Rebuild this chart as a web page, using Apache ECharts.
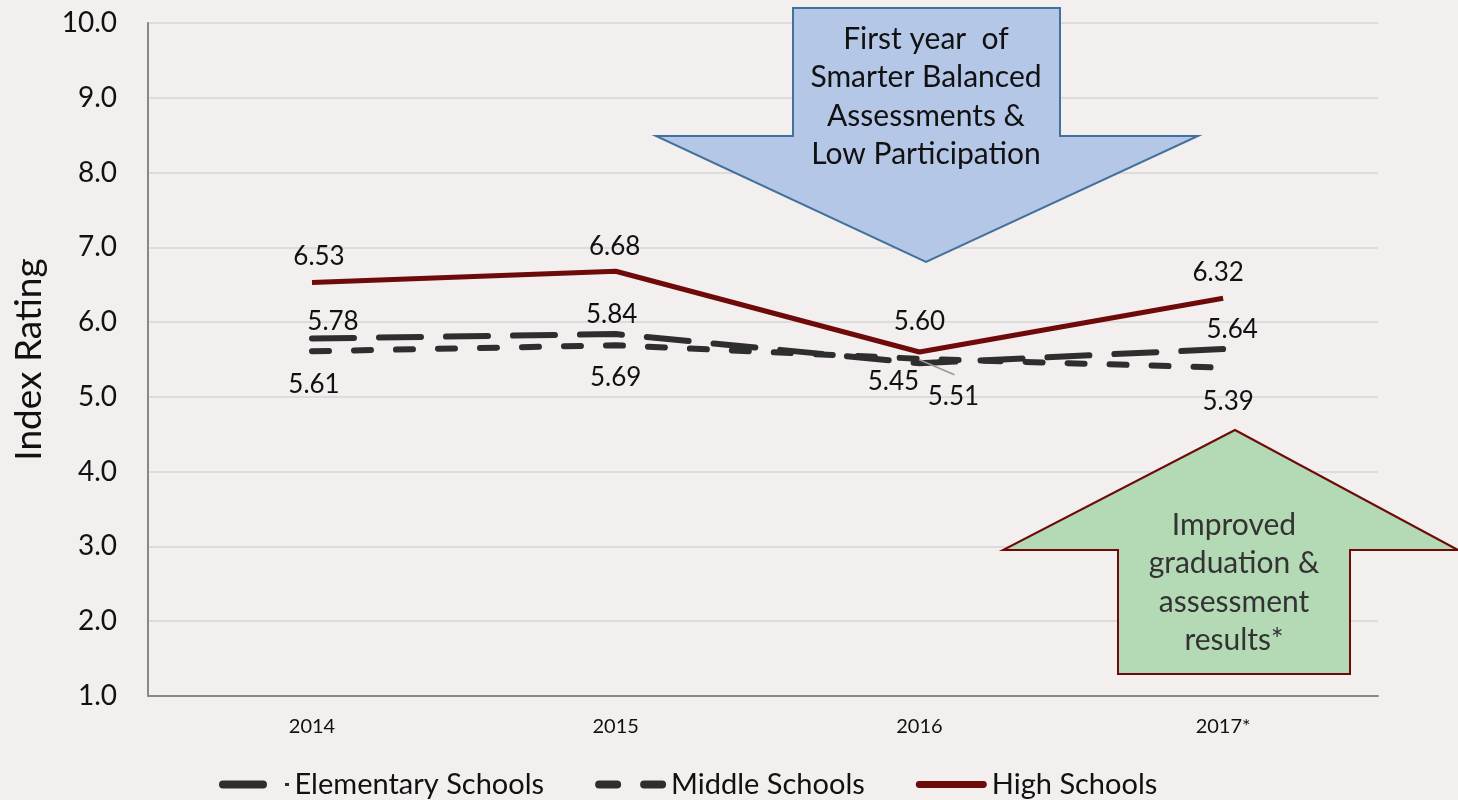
<!DOCTYPE html>
<html>
<head>
<meta charset="utf-8">
<script src="https://cdn.jsdelivr.net/npm/echarts@6/dist/echarts.min.js"></script>
<style>
  html, body { margin: 0; padding: 0; background: #f2efee; }
  #chart { width: 1458px; height: 800px; }
</style>
</head>
<body>
<div id="chart"></div>
<script>
  const years = ['2014', '2015', '2016', '2017*']
  const yearIdx = [0, 1, 2, 3]
  const elementary = [5.78, 5.84, 5.45, 5.64]
  const middle = [5.61, 5.69, 5.51, 5.39]
  const high = [6.53, 6.68, 5.60, 6.32]

  // label offsets from each point, px
  const elemOffsets = [[21, -17], [-4, -19], [-26, 18], [9, -19]]
  const middleOffsets = [[2, 33], [0, 32], [34, 38], [5, 34]]
  const highOffsets = [[7, -26], [-1, -25], [0, -30], [-5, -26]]

  const font = 'Lato, "Open Sans", sans-serif'

  function toData(values, offsets) {
    return values.map((v, i) => ({ value: [yearIdx[i], v], label: { offset: offsets[i] } }))
  }

  const chart = echarts.init(document.getElementById('chart'))

  const lblStyle = {
    show: true,
    position: 'inside',
    fontSize: 26,
    color: '#111',
    fontFamily: font,
    formatter: p => p.value[1].toFixed(2)
  }

  const option = {
    backgroundColor: '#f2efee',
    animation: false,
    grid: { left: 148, right: 80, top: 23, bottom: 104 },
    legend: {
      top: 765,
      left: 214,
      itemWidth: 71,
      itemHeight: 8,
      itemGap: 51,
      textStyle: { fontSize: 29, color: '#111', fontFamily: font },
      data: [
        { name: 'Elementary Schools',
          icon: 'path://M4,0H44A4,4 0 0 1 44,8H4A4,4 0 0 1 4,0Z M66,2.5H70V5.5H66Z' },
        { name: 'Middle Schools',
          icon: 'path://M4,0H22A4,4 0 0 1 22,8H4A4,4 0 0 1 4,0Z M49,0H67A4,4 0 0 1 67,8H49A4,4 0 0 1 49,0Z' },
        { name: 'High Schools',
          icon: 'path://M3,0.5H68A3.5,3.5 0 0 1 68,7.5H3A3.5,3.5 0 0 1 3,0.5Z' }
      ]
    },
    xAxis: {
      type: 'value',
      min: -0.54,
      max: 3.51,
      splitLine: { show: false },
      axisTick: { show: false },
      axisLine: { lineStyle: { color: '#888', width: 2 } },
      axisLabel: {
        customValues: yearIdx,
        fontSize: 20, color: '#111', margin: 21, fontFamily: font,
        formatter: v => years[v]
      }
    },
    yAxis: {
      type: 'value',
      min: 1,
      max: 10,
      interval: 1,
      name: 'Index Rating',
      nameLocation: 'middle',
      nameGap: 100,
      nameTextStyle: { fontSize: 37, color: '#111', fontFamily: font },
      axisLine: { show: true, onZero: false, lineStyle: { color: '#888', width: 2 } },
      axisTick: { show: false },
      axisLabel: {
        fontSize: 28, color: '#111', margin: 31, fontFamily: font,
        formatter: v => v.toFixed(1)
      },
      splitLine: { lineStyle: { color: '#dcdcdc', width: 2 } }
    },
    series: [
      {
        name: 'Elementary Schools',
        type: 'line',
        symbol: 'circle',
        symbolSize: 0,
        data: toData(elementary, elemOffsets),
        lineStyle: { color: '#2e2e2e', width: 6, type: [42, 25], cap: 'round' },
        itemStyle: { color: '#2e2e2e' },
        label: lblStyle,
        z: 3
      },
      {
        name: 'Middle Schools',
        type: 'line',
        symbol: 'circle',
        symbolSize: 0,
        data: toData(middle, middleOffsets),
        lineStyle: { color: '#2e2e2e', width: 6, type: [17, 25], cap: 'round' },
        itemStyle: { color: '#2e2e2e' },
        label: lblStyle,
        z: 3
      },
      {
        name: 'High Schools',
        type: 'line',
        symbol: 'circle',
        symbolSize: 0,
        data: toData(high, highOffsets),
        lineStyle: { color: '#6e0a0a', width: 5 },
        itemStyle: { color: '#6e0a0a' },
        label: lblStyle,
        z: 4
      }
    ],
    graphic: [
      {
        type: 'polygon',
        z: 10,
        shape: {
          points: [[793, 8], [1060, 8], [1060, 136], [1198, 136], [926, 262],
                   [656, 136], [793, 136]]
        },
        style: { fill: '#b4c7e7', stroke: '#41719c', lineWidth: 2 }
      },
      {
        type: 'text',
        z: 11,
        x: 926,
        y: 97,
        style: {
          text: 'First year  of\nSmarter Balanced\nAssessments &\nLow Participation',
          fill: '#111',
          font: '30px ' + font,
          lineHeight: 38.5,
          align: 'center',
          verticalAlign: 'middle'
        }
      },
      {
        type: 'polygon',
        z: 10,
        shape: {
          points: [[1235, 430], [1458, 550], [1350, 550], [1350, 674],
                   [1118, 674], [1118, 550], [1003, 550]]
        },
        style: { fill: '#b4dab5', stroke: '#6e0a0a', lineWidth: 2 }
      },
      {
        type: 'text',
        z: 11,
        x: 1234,
        y: 583,
        style: {
          text: 'Improved\ngraduation &\nassessment\nresults*',
          fill: '#333',
          font: '30px ' + font,
          lineHeight: 38.5,
          align: 'center',
          verticalAlign: 'middle'
        }
      }
    ]
  }

  option && chart.setOption(option)

  // small guide line from the 2016 middle-school point to its label
  const p = chart.convertToPixel({ gridIndex: 0 }, [yearIdx[2], middle[2]])
  chart.setOption({
    graphic: [{
      type: 'line',
      id: 'guide',
      z: 5,
      shape: { x1: p[0], y1: p[1] + 1, x2: p[0] + 35, y2: p[1] + 16 },
      style: { stroke: '#999', lineWidth: 1.5 }
    }]
  })
</script>
</body>
</html>
